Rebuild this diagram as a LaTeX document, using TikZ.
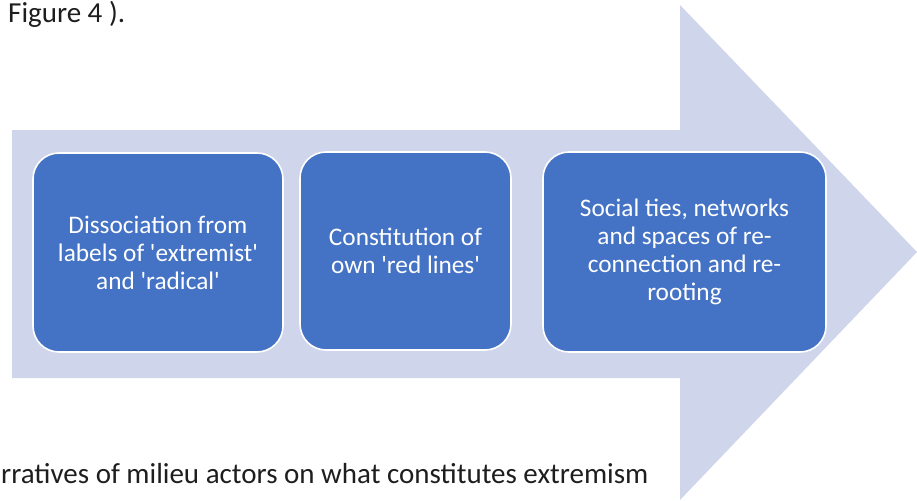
\documentclass[tikz,border=0pt]{standalone}
\usepackage{fontspec}
\setmainfont{Carlito}
\usetikzlibrary{positioning}
\definecolor{arrowfill}{HTML}{CFD5EA}
\definecolor{boxblue}{HTML}{4472C4}
\definecolor{textgrey}{HTML}{1E1E1E}

\begin{document}
\begin{tikzpicture}[x=1pt, y=-1pt,
  stage/.style={draw=white, line width=1.6pt, fill=boxblue, rounded corners=26pt,
    text=white, align=center, inner sep=0pt, font=\fontsize{25.3}{28}\selectfont},
  caption/.style={text=textgrey, anchor=base west, inner sep=0pt, font=\fontsize{29}{34}\selectfont}]
  \useasboundingbox (0,0) rectangle (917,500);
  % big process arrow
  \fill[arrowfill] (12,130) -- (680,130) -- (680,5) -- (917,252) -- (680,500)
    -- (680,378) -- (12,378) -- cycle;
  % stages
  \node[stage, minimum width=250pt, minimum height=199pt] (dissoc) at (158,252.5)
    {Dissociation from\\labels of \textquotesingle extremist\textquotesingle\\and \textquotesingle radical\textquotesingle};
  \node[stage, minimum width=211pt, minimum height=198pt] (redlines) at (405.5,251)
    {Constitution of\\own \textquotesingle red lines\textquotesingle};
  \node[stage, minimum width=283pt, minimum height=200pt] (ties) at (684.5,252)
    {Social ties, networks\\and spaces of re-\\connection and re-\\rooting};
  % surrounding text
  \node[caption] (figref) at (8,23) {Figure 4 ).};
  \node[caption] (narr) at (1,483) {rratives of milieu actors on what constitutes extremism};
\end{tikzpicture}
\end{document}
